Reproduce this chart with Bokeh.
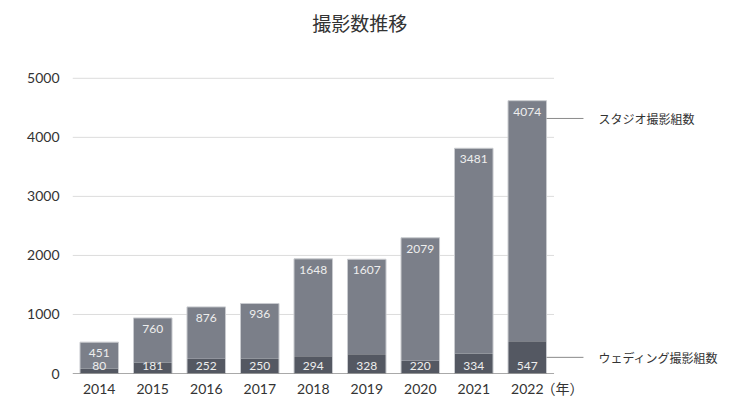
from bokeh.plotting import figure
from bokeh.models import Range1d, FixedTicker, ColumnDataSource
from bokeh.core.properties import value
from bokeh.embed import file_html
from bokeh.resources import INLINE

years = ["2014", "2015", "2016", "2017", "2018", "2019", "2020", "2021", "2022"]
wedding = [80, 181, 252, 250, 294, 328, 220, 334, 547]
studio = [451, 760, 876, 936, 1648, 1607, 2079, 3481, 4074]
y_ticks = [0, 1000, 2000, 3000, 4000, 5000]
title_text = "撮影数推移"
studio_name = "スタジオ撮影組数"
wedding_name = "ウェディング撮影組数"
year_unit = "（年）"

NUM_FONT = "Lato, Noto Sans CJK JP"
JP_FONT = "Noto Sans CJK JP"

xs = list(range(len(years)))
totals = [w + s for w, s in zip(wedding, studio)]
src = ColumnDataSource(dict(
    x=xs, wedding=wedding, studio=studio, total=totals,
    wl=[str(v) for v in wedding], sl=[str(v) for v in studio],
))

p = figure(width=750, height=412, output_backend="svg", toolbar_location=None,
           x_range=Range1d(-0.5, 12.06), y_range=Range1d(0, 6318),
           min_border_left=72, min_border_right=6, min_border_top=0,
           min_border_bottom=39)
p.outline_line_color = None
p.background_fill_color = "white"
p.border_fill_color = "white"
p.grid.visible = False

# title drawn in the (tall) frame, above the chart area
p.text(x=[4.87], y=[5950], text=[title_text], text_align="center",
       text_baseline="middle", text_color="#333333",
       text_font=value(JP_FONT), text_font_size="19px")

# gridlines over the chart part only
x_lo, x_hi = -0.5, len(years) - 0.5
gy = [t for t in y_ticks if t > 0]
p.segment(x0=[x_lo] * len(gy), x1=[x_hi] * len(gy), y0=gy, y1=gy,
          line_color="#dcdcdc", line_width=1)

# bars
p.vbar(x="x", width=0.72, bottom=0, top="wedding", source=src,
       fill_color="#545862", line_color=None)
p.vbar(x="x", width=0.72, bottom="wedding", top="total", source=src,
       fill_color="#7b7f89", line_color=None)
p.vbar(x="x", width=0.72, bottom=0, top="total", source=src,
       fill_color=None, line_color="#c9cbcf", line_width=1)

# baseline
p.segment(x0=[x_lo], x1=[x_hi], y0=[0], y1=[0], line_color="#555555", line_width=1.2)

# value labels
p.text(x="x", y="total", text="sl", source=src, text_align="center",
       text_baseline="middle", y_offset=11, text_color="#eeeeee",
       text_font=value(NUM_FONT), text_font_size="12px")
p.text(x="x", y=0, text="wl", source=src, text_align="center",
       text_baseline="middle", y_offset=-8, text_color="#eeeeee",
       text_font=value(NUM_FONT), text_font_size="12px")

# leader lines and series labels
last = len(years) - 1
bar_right = last + 0.36
line_end = last + 1.05
label_x = last + 1.33
studio_y = 4320
wedding_y = wedding[last] / 2
p.segment(x0=[bar_right, bar_right], x1=[line_end, line_end],
          y0=[studio_y, wedding_y], y1=[studio_y, wedding_y],
          line_color="#8a8a8a", line_width=1)
p.text(x=[label_x, label_x], y=[studio_y, wedding_y], text=[studio_name, wedding_name],
       text_align="left", text_baseline="middle", text_color="#333333",
       text_font=value(JP_FONT), text_font_size="12px")

# axes
unit_x = last + 0.66
p.xaxis.ticker = FixedTicker(ticks=xs + [unit_x])
overrides = {i: y for i, y in enumerate(years)}
overrides[unit_x] = year_unit
p.xaxis.major_label_overrides = overrides
p.xaxis.axis_line_color = None
p.xaxis.major_tick_line_color = None
p.xaxis.minor_tick_line_color = None
p.xaxis.major_label_text_font = NUM_FONT
p.xaxis.major_label_text_font_size = "14px"
p.xaxis.major_label_text_color = "#333333"
p.xaxis.major_label_standoff = 0

p.yaxis.ticker = FixedTicker(ticks=y_ticks)
p.yaxis.axis_line_color = None
p.yaxis.major_tick_line_color = None
p.yaxis.minor_tick_line_color = None
p.yaxis.major_label_text_font = NUM_FONT
p.yaxis.major_label_text_font_size = "14px"
p.yaxis.major_label_text_color = "#333333"
p.yaxis.major_label_standoff = 7

open("out.html", "w").write(file_html(p, INLINE))
